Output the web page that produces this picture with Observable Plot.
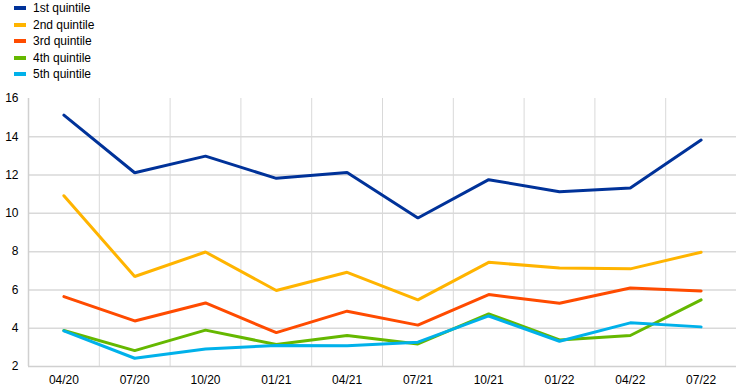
<!DOCTYPE html>
<html>
<head>
<meta charset="utf-8">
<script src="https://cdn.jsdelivr.net/npm/d3@7"></script>
<script src="https://cdn.jsdelivr.net/npm/@observablehq/plot@0.6"></script>
<style>
  html, body { margin: 0; padding: 0; background: #fff; }
  body { width: 744px; height: 392px; overflow: hidden; font-family: "Liberation Sans", Arial, sans-serif; }
  #legend { position: relative; height: 88px; }
  .item { position: absolute; left: 14px; height: 16px; display: flex; align-items: center; font-size: 12px; color: #000; }
  .sw { width: 12px; height: 4px; margin-right: 7px; }
</style>
</head>
<body>
<div id="legend"></div>
<div id="chart"></div>
<script>
const dates = ["04/20","07/20","10/20","01/21","04/21","07/21","10/21","01/22","04/22","07/22"];
const seriesNames = ["1st quintile","2nd quintile","3rd quintile","4th quintile","5th quintile"];
const colors = ["#003299","#ffb400","#ff4b00","#65b800","#00b1ea"];
const q1 = [15.13, 12.12, 12.99, 11.83, 12.14, 9.76, 11.76, 11.13, 11.32, 13.83];
const q2 = [10.92, 6.70, 7.98, 5.97, 6.92, 5.48, 7.44, 7.15, 7.10, 7.97];
const q3 = [5.65, 4.38, 5.32, 3.77, 4.89, 4.16, 5.76, 5.30, 6.10, 5.95];
const q4 = [3.88, 2.83, 3.90, 3.15, 3.62, 3.18, 4.75, 3.39, 3.62, 5.48];
const q5 = [3.86, 2.43, 2.92, 3.10, 3.08, 3.27, 4.64, 3.32, 4.28, 4.07];
const yTicks = [2, 4, 6, 8, 10, 12, 14, 16];

const allSeries = [q1, q2, q3, q4, q5];
const rows = [];
allSeries.forEach((vals, s) => vals.forEach((v, i) => rows.push({s: seriesNames[s], i, v})));

// legend
const legend = document.getElementById("legend");
const legendTops = [0, 16.5, 33, 49.5, 66];
seriesNames.forEach((n, k) => {
  const d = document.createElement("div");
  d.className = "item";
  d.style.top = legendTops[k] + "px";
  d.innerHTML = `<span class="sw" style="background:${colors[k]}"></span><span>${n}</span>`;
  legend.appendChild(d);
});

const idx = d3.range(dates.length);
const chart = Plot.plot({
  width: 744,
  height: 304,
  marginTop: 10,
  marginBottom: 26,
  marginLeft: 28,
  marginRight: 8,
  style: {fontFamily: "'Liberation Sans', Arial, sans-serif", fontSize: "12px", color: "#000", background: "#fff"},
  x: {domain: [-0.5, dates.length - 0.5], ticks: idx, tickFormat: i => dates[i], tickSize: 0, tickPadding: 9, label: null},
  y: {domain: [2, 16], ticks: yTicks, tickSize: 0, tickPadding: 10, label: null},
  color: {domain: seriesNames, range: colors},
  marks: [
    Plot.ruleY(yTicks.filter(t => t > 2 && t < 16), {stroke: "#d9d9d9", strokeWidth: 1.5}),
    Plot.ruleX(idx.slice(1).map(i => i - 0.5), {stroke: "#d9d9d9", strokeWidth: 1}),
    Plot.ruleY([2], {stroke: "#d0d0d0", strokeWidth: 1.5}),
    Plot.ruleX([-0.5], {stroke: "#d0d0d0", strokeWidth: 1.5}),
    Plot.line(rows, {x: "i", y: "v", z: "s", stroke: "s", strokeWidth: 3, strokeLinejoin: "miter", strokeLinecap: "round"}),
  ]
});
document.getElementById("chart").appendChild(chart);
</script>
</body>
</html>
